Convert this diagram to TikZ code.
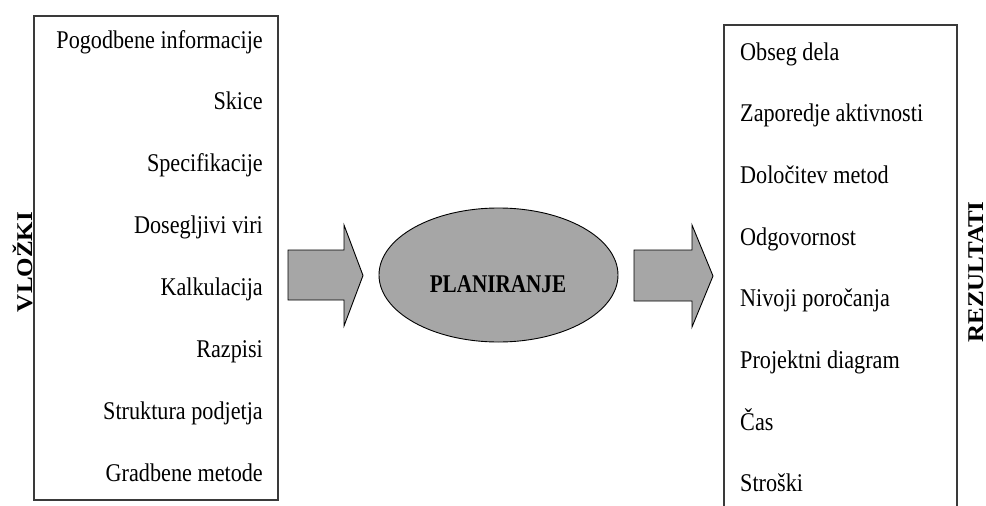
\documentclass[tikz,border=0pt]{standalone}
\usepackage{fontspec}
\setmainfont{Liberation Serif}
\usepackage{graphicx}
\usetikzlibrary{shapes.geometric}
\definecolor{arrowgray}{HTML}{A6A6A6}
\definecolor{framegray}{HTML}{3A3A3A}
% horizontally condensed text
\newcommand\narrowtext[2][0.87]{\scalebox{#1}[1]{#2}}
\begin{document}
\begin{tikzpicture}[x=1pt,y=-1pt,
  frame/.style={draw=framegray, line width=1.4pt, inner sep=0pt},
  item/.style={font=\fontsize{25.5}{30}\selectfont, inner sep=0pt},
  sidelabel/.style={font=\bfseries\fontsize{25}{30}\selectfont, inner sep=0pt, rotate=90, anchor=base},
  blockarrow/.style={fill=arrowgray, draw=black, line width=0.9pt, line join=miter},
]
\useasboundingbox (0,0) rectangle (986,506);

% input and output frames
\node[frame, minimum width=244pt, minimum height=484pt] (inputs) at (156,258) {};
\node[frame, minimum width=233pt, minimum height=500pt] (outputs) at (840.5,275) {};

% side titles
\node[sidelabel] (vl) at (32,262) {\scalebox{1}[0.9]{VLOŽKI}};
\node[sidelabel] (rz) at (983,272) {\scalebox{1}[0.9]{REZULTATI}};

% input items
\foreach \t [count=\i] in {Pogodbene informacije, Skice, Specifikacije, Dosegljivi viri, Kalkulacija, Razpisi, Struktura podjetja, Gradbene metode}
  \node[item, anchor=base east] (in\i) at (263,{48+(\i-1)*61.9}) {\narrowtext{\t}};

% output items
\foreach \t [count=\i] in {Obseg dela, Zaporedje aktivnosti, Določitev metod, Odgovornost, Nivoji poročanja, Projektni diagram, Čas, Stroški}
  \node[item, anchor=base west] (out\i) at (740,{60+(\i-1)*61.7}) {\narrowtext{\t}};

% central process
\node[ellipse, fill=arrowgray, draw=black, line width=0.9pt, minimum width=239pt, minimum height=134pt, inner sep=0pt] (plan) at (498.5,275) {};
\node[font=\bfseries\fontsize{25.5}{30}\selectfont, inner sep=0pt, anchor=base] (plantext) at (498,292) {\narrowtext[0.83]{PLANIRANJE}};

% block arrows
\draw[blockarrow] (288,250) -- (344,250) -- (344,225) -- (363,275.5) -- (344,326) -- (344,300) -- (288,300) -- cycle;
\draw[blockarrow] (634,250) -- (692,250) -- (692,225) -- (713,276) -- (692,327) -- (692,301) -- (634,301) -- cycle;
\end{tikzpicture}
\end{document}
